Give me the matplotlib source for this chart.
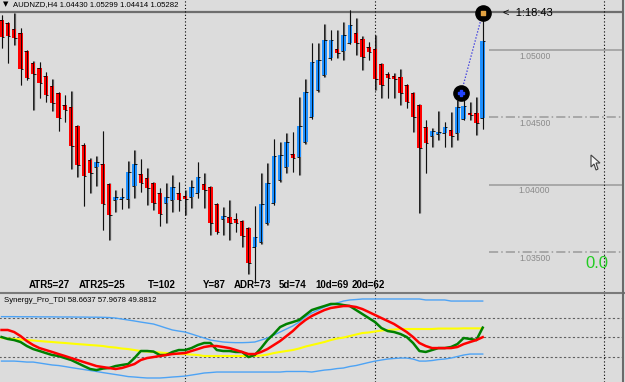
import numpy as np
import matplotlib
matplotlib.use("Agg")
import matplotlib.pyplot as plt
from matplotlib.patches import Polygon

plt.rcParams['font.family'] = ['Liberation Sans', 'DejaVu Sans']

# AUDNZD H4 bars
opens = [1.05223, 1.05201, 1.05156, 1.05126, 1.04993, 1.04903, 1.04866, 1.04807, 1.04733, 1.04681,
         1.04591, 1.04577, 1.04435, 1.04294, 1.04183, 1.04131, 1.04153, 1.04005, 1.03886, 1.03893,
         1.03893, 1.03990, 1.04079, 1.04049, 1.04012, 1.03938, 1.03863, 1.03886, 1.03938, 1.03915,
         1.03908, 1.03938, 1.04005, 1.03982, 1.03856, 1.03745, 1.03759, 1.03745, 1.03730, 1.03678,
         1.03537, 1.03574, 1.03715, 1.03863, 1.04034, 1.04131, 1.04228, 1.04205, 1.04316, 1.04502,
         1.04703, 1.04814, 1.04941, 1.05007, 1.04993, 1.05052, 1.05126, 1.05082, 1.05022, 1.05007,
         1.04896, 1.04822, 1.04807, 1.04799, 1.04740, 1.04681, 1.04591, 1.04428, 1.04361, 1.04376,
         1.04383, 1.04406, 1.04383, 1.04487, 1.04532, 1.04532, 1.04495]
highs = [1.05260, 1.05208, 1.05275, 1.05163, 1.05000, 1.04918, 1.04911, 1.04837, 1.04785, 1.04688,
         1.04666, 1.04695, 1.04443, 1.04309, 1.04198, 1.04213, 1.04398, 1.04012, 1.03960, 1.03975,
         1.04176, 1.04257, 1.04191, 1.04124, 1.04019, 1.03975, 1.04012, 1.04072, 1.04019, 1.03960,
         1.04034, 1.04168, 1.04087, 1.03990, 1.03863, 1.03834, 1.03886, 1.03789, 1.03737, 1.03685,
         1.03841, 1.04087, 1.04161, 1.04339, 1.04316, 1.04383, 1.04391, 1.04651, 1.04785, 1.05052,
         1.05052, 1.05193, 1.05149, 1.05149, 1.05208, 1.05297, 1.05238, 1.05104, 1.05059, 1.05111,
         1.04903, 1.04837, 1.04829, 1.04859, 1.04747, 1.04688, 1.04599, 1.04480, 1.04421, 1.04547,
         1.04465, 1.04539, 1.04629, 1.04718, 1.04614, 1.04651, 1.05299]
lows = [1.05015, 1.04903, 1.05037, 1.04740, 1.04777, 1.04554, 1.04643, 1.04614, 1.04547, 1.04398,
        1.04465, 1.04116, 1.04057, 1.03841, 1.03938, 1.03990, 1.03663, 1.03589, 1.03796, 1.03819,
        1.03826, 1.03901, 1.03945, 1.03848, 1.03811, 1.03692, 1.03715, 1.03796, 1.03804, 1.03774,
        1.03826, 1.03901, 1.03826, 1.03626, 1.03633, 1.03626, 1.03589, 1.03648, 1.03537, 1.03336,
        1.03269, 1.03559, 1.03700, 1.03848, 1.04019, 1.04087, 1.04094, 1.04072, 1.04302, 1.04487,
        1.04688, 1.04799, 1.04926, 1.04941, 1.04926, 1.05045, 1.04963, 1.04851, 1.04926, 1.04703,
        1.04643, 1.04643, 1.04643, 1.04591, 1.04569, 1.04391, 1.03789, 1.04087, 1.04279, 1.04331,
        1.04279, 1.04279, 1.04331, 1.04480, 1.04480, 1.04369, 1.04414]
closes = [1.05097, 1.05104, 1.05089, 1.04859, 1.04792, 1.04822, 1.04755, 1.04666, 1.04606, 1.04495,
          1.04554, 1.04287, 1.04146, 1.04064, 1.04087, 1.04168, 1.03856, 1.03774, 1.03908, 1.03908,
          1.04094, 1.04153, 1.04012, 1.03975, 1.03863, 1.03782, 1.03908, 1.03982, 1.03886, 1.03893,
          1.03982, 1.04057, 1.03960, 1.03715, 1.03648, 1.03767, 1.03715, 1.03715, 1.03618, 1.03418,
          1.03611, 1.03856, 1.04012, 1.04213, 1.04220, 1.04316, 1.04198, 1.04435, 1.04688, 1.04911,
          1.04926, 1.05074, 1.05074, 1.04978, 1.05111, 1.05186, 1.05052, 1.04948, 1.04985, 1.04785,
          1.04740, 1.04792, 1.04785, 1.04681, 1.04614, 1.04502, 1.04272, 1.04309, 1.04398, 1.04391,
          1.04428, 1.04361, 1.04577, 1.04584, 1.04517, 1.04458, 1.05067]

# Synergy_Pro_TDI lines
tdi_upper = [68.8, 68.8, 68.8, 68.7, 68.7, 68.7, 68.6, 68.6, 68.6, 68.5,
             68.5, 68.5, 68.4, 68.4, 68.3, 68.3, 68.2, 68.0, 67.5, 66.6,
             65.7, 64.8, 63.8, 62.9, 62.0, 60.2, 58.3, 56.5, 55.5, 54.6,
             52.8, 50.9, 49.1, 47.2, 46.3, 45.4, 45.0, 44.8, 44.8, 45.0,
             45.4, 47.2, 49.1, 51.8, 54.6, 57.4, 60.2, 63.8, 68.5, 72.2,
             74.9, 77.7, 79.6, 81.4, 83.2, 84.2, 84.6, 85.1, 85.1, 85.1,
             85.1, 85.1, 85.1, 85.1, 85.1, 85.1, 85.1, 84.2, 84.2, 84.2,
             84.2, 83.2, 83.2, 83.2, 83.2, 83.2, 83.2]
tdi_lower = [27.8, 27.8, 27.8, 27.4, 26.9, 26.9, 26.0, 25.1, 24.2, 23.7,
             22.8, 21.8, 20.9, 20.0, 19.1, 18.2, 17.2, 16.3, 15.4, 14.5,
             13.5, 13.1, 12.6, 12.2, 12.2, 12.2, 12.6, 13.1, 13.5, 14.0,
             14.9, 15.8, 16.8, 17.2, 17.7, 17.7, 17.7, 17.7, 17.7, 17.7,
             17.7, 17.7, 17.7, 17.7, 17.7, 18.2, 18.2, 18.2, 18.2, 17.7,
             18.6, 19.5, 20.0, 20.9, 21.4, 22.8, 23.7, 25.1, 26.5, 27.8,
             28.8, 29.7, 30.2, 30.6, 30.6, 29.7, 27.8, 27.8, 28.3, 29.2,
             29.7, 30.6, 32.0, 33.4, 34.3, 34.3, 34.3]
tdi_base = [49.1, 48.6, 48.2, 47.7, 47.2, 46.8, 46.3, 45.8, 45.4, 44.9,
            44.5, 44.0, 43.5, 43.1, 42.6, 42.2, 41.7, 40.8, 40.3, 39.4,
            38.9, 38.0, 37.1, 36.6, 36.2, 35.7, 35.2, 34.8, 34.3, 34.3,
            33.8, 33.4, 32.5, 32.5, 32.5, 32.5, 32.5, 32.5, 32.5, 32.5,
            32.5, 32.9, 33.8, 35.2, 36.2, 37.1, 38.0, 39.4, 41.2, 42.6,
            44.0, 45.4, 47.2, 48.6, 49.5, 50.9, 52.3, 53.7, 54.2, 55.1,
            56.0, 56.5, 56.9, 57.4, 57.4, 57.4, 57.4, 57.4, 57.4, 57.8,
            57.8, 57.8, 57.8, 58.0, 58.0, 58.0, 57.97]
tdi_rsi = [50.0, 48.2, 47.2, 45.4, 41.7, 38.9, 37.1, 35.2, 33.4, 32.5,
           30.6, 28.8, 26.0, 23.2, 20.5, 19.5, 20.9, 21.4, 23.2, 24.2,
           25.1, 30.6, 37.1, 37.1, 36.6, 33.4, 33.4, 36.2, 38.0, 38.0,
           39.8, 42.6, 44.5, 44.5, 38.0, 37.1, 37.1, 36.2, 36.2, 31.5,
           33.4, 39.8, 47.2, 52.8, 59.2, 62.0, 63.8, 65.7, 70.3, 74.9,
           76.8, 78.6, 80.5, 80.5, 79.5, 78.6, 74.9, 71.2, 67.5, 63.8,
           58.3, 55.5, 54.6, 52.8, 50.0, 44.5, 37.1, 36.2, 38.0, 39.8,
           39.8, 40.8, 43.5, 49.1, 48.2, 47.2, 58.66]
tdi_signal = [56.5, 56.5, 54.6, 50.9, 46.3, 42.6, 39.8, 38.0, 36.2, 34.3,
              32.5, 30.6, 28.8, 26.9, 25.1, 23.2, 22.3, 21.4, 20.5, 21.4,
              23.2, 25.1, 28.8, 30.6, 31.5, 32.5, 33.4, 34.3, 34.8, 35.2,
              37.1, 38.9, 40.8, 41.7, 41.7, 40.8, 39.8, 38.0, 36.2, 34.3,
              34.3, 36.2, 38.9, 42.6, 46.3, 50.9, 55.5, 61.1, 65.7, 69.4,
              72.2, 74.9, 76.8, 77.7, 78.6, 78.6, 77.7, 75.8, 73.1, 70.3,
              67.5, 64.8, 62.0, 58.3, 54.6, 50.0, 44.5, 41.7, 39.8, 39.8,
              39.8, 39.8, 40.8, 43.5, 45.4, 47.2, 49.88]
tdi_levels = [68, 50, 32]

bid = 1.05282
levels = [1.05000, 1.04500, 1.04000, 1.03500]
level_ls = ['-', (0, (6, 2, 1, 2)), '-', (0, (6, 2, 1, 2))]
separators = [29, 59, 95.2]
trade_x = [72.6, 76]
trade_price = [1.04681, 1.05275]

title = 'AUDNZD,H4 1.04430 1.05299 1.04414 1.05282'
tdi_title = 'Synergy_Pro_TDI 58.6637 57.9678 49.8812'
stats = ['ATR5=27', 'ATR25=25', 'T=102', 'Y=87', 'ADR=73', '5d=74', '10d=69', '20d=62']
stats_px = [29, 79, 148, 203, 234, 279, 315, 352]

BG = '#DCDCDC'
W, H = 625, 382
fig = plt.figure(figsize=(W / 100, H / 100), dpi=100, facecolor=BG)
ax = fig.add_axes([0, (H - 292) / H, 622 / W, 292 / H], facecolor=BG)
sub = fig.add_axes([0, 0, 622 / W, (H - 294) / H], facecolor=BG)
ov = fig.add_axes([0, 0, 1, 1], facecolor='none')
ov.set_xlim(0, W)
ov.set_ylim(H, 0)
ov.axis('off')

x = np.arange(len(opens))
o = np.array(opens)
c = np.array(closes)
up = c >= o
body_lo = np.minimum(o, c)
body_h = np.maximum(np.abs(c - o), 0.00012)
ax.vlines(x + 0.08, lows, highs, color='#5A5A5A', lw=0.9, zorder=1.5)
ax.bar(x, body_h, bottom=body_lo, width=0.7,
       color=np.where(up, '#1E90FF', '#FF0000'), linewidth=0, zorder=2)
ax.vlines(x, lows, highs, color='black', lw=0.7, alpha=0.85, zorder=3)
ax.hlines(opens, x - 0.4, x, color='black', lw=0.6, zorder=3)
ax.hlines(closes, x, x + 0.4, color='black', lw=0.6, zorder=3)

ax.axhline(bid, color='#6E6E6E', lw=1.6, zorder=1)
for lv, ls in zip(levels, level_ls):
    ax.hlines(lv, 77.0, 98.5, colors='#9A9A9A', linestyles=[ls], lw=1.1, zorder=1)
    ax.text(84.2, lv - 0.00047, f'{lv:.5f}', color='#8A8A8A', fontsize=6.2,
            ha='center', va='center')
for s in separators:
    ax.axvline(s, color='black', ls=(0, (1, 2)), lw=0.8, zorder=1)
    sub.axvline(s, color='black', ls=(0, (1, 2)), lw=0.8, zorder=1)

ax.plot(trade_x, trade_price, ls=(0, (1, 1.5)), color='#2A2AE0', lw=0.9, zorder=4)
ax.scatter(trade_x, trade_price, s=120, c='black', zorder=5)
ax.scatter(trade_x[:1], trade_price[:1], s=14, c='#2244FF', marker='P', zorder=6)
ax.scatter(trade_x[1:], trade_price[1:], s=10, c='#E0A040', marker='s', zorder=6)

ax.set_xlim(-0.24, 98.0)
ax.set_ylim(1.03202, 1.05371)
ax.axis('off')

sub.plot(x, tdi_base, color='#FFFF00', lw=1.5, zorder=2)
sub.plot(x, tdi_upper, color='#4DA3F5', lw=1.0, zorder=2)
sub.plot(x, tdi_lower, color='#4DA3F5', lw=1.0, zorder=2)
sub.plot(x, tdi_rsi, color='#008000', lw=1.8, zorder=3)
sub.plot(x, tdi_signal, color='#FF0000', lw=1.8, zorder=4)
sub.hlines(tdi_levels, -1, 99, colors='#606060', linestyles=[(0, (2, 2))], lw=0.8, zorder=1)
sub.set_xlim(-0.24, 98.0)
sub.set_ylim(8.5, 89.7)
sub.axis('off')

# text and window chrome in pixel space
ov.text(3, 6, '\u25bc', fontsize=5, va='baseline', family='DejaVu Sans')
ov.text(13, 6, title, fontsize=5.6, va='baseline')
ov.text(503, 13, '<  1:18:43', fontsize=8, va='center')
ov.text(585, 264, '0.0', fontsize=12, color='#22CC22', va='center')
for s, px in zip(stats, stats_px):
    ov.text(px, 288, s, fontsize=7, fontweight='bold', va='baseline')
ov.text(4, 301, tdi_title, fontsize=5.6, va='center')
ov.plot([0, W], [293, 293], color='#7A7A7A', lw=1.5)
ov.plot([622.5, 622.5], [0, H], color='#6A6A6A', lw=1.5)
ov.add_patch(Polygon([(591, 155), (591, 167), (594, 164), (596, 170), (598, 169),
                      (596, 163), (600, 163)], closed=True,
                     facecolor='#F4F4F4', edgecolor='#404040', lw=0.8))

fig.savefig('out.png', dpi=100, facecolor=BG)
